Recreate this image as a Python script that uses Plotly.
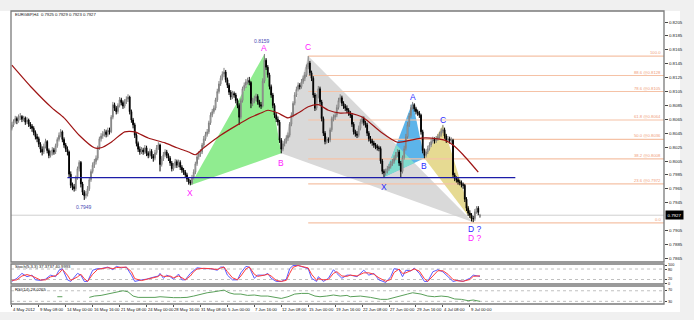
import plotly.graph_objects as go

W, H = 694, 320
LEFT, RIGHT = 11, 664
MAIN_T, MAIN_B = 11, 262
ST_T, ST_B = 264, 284
RS_T, RS_B = 286, 304


def py(p):
    return 1 - p / H


def px(p):
    return p / W


FONT = "Liberation Sans, Arial, sans-serif"

# ---------------- data (prices in 1/10000) ----------------
opens = [
    8052, 8057, 8062, 8066, 8063, 8068, 8069, 8065, 8067, 8061,
    8064, 8058, 8055, 8052, 8046, 8040, 8037, 8029, 8022, 8018,
    8026, 8033, 8020, 8013, 8016, 8021, 8018, 8027, 8036, 8042,
    8047, 8036, 8028, 8022, 8018, 7986, 7970, 7968, 7965, 7981,
    7994, 8003, 7972, 7960, 7955, 7958, 7965, 7978, 7990, 7999,
    8004, 8009, 8024, 8037, 8041, 8044, 8047, 8043, 8049, 8047,
    8068, 8086, 8081, 8076, 8085, 8093, 8089, 8084, 8090, 8094,
    8097, 8076, 8064, 8057, 8042, 8030, 8022, 8018, 8021, 8018,
    8024, 8016, 8013, 8019, 8012, 8009, 8017, 8024, 8028, 8000,
    8008, 8014, 8018, 8013, 8009, 8002, 7994, 7998, 8004, 7999,
    8003, 7996, 7992, 7989, 7985, 7979, 7975, 7973, 7981, 7989,
    8001, 8011, 8015, 8018, 8028, 8037, 8043, 8047, 8060, 8071,
    8076, 8081, 8093, 8105, 8116, 8124, 8130, 8133, 8122, 8114,
    8104, 8097, 8102, 8100, 8092, 8085, 8068, 8092, 8109, 8114,
    8119, 8121, 8118, 8088, 8092, 8095, 8098, 8090, 8086, 8084,
    8120, 8150, 8140, 8129, 8112, 8100, 8085, 8071, 8065, 8061,
    8035, 8022, 8030, 8033, 8038, 8042, 8058, 8071, 8088, 8100,
    8108, 8114, 8112, 8119, 8124, 8129, 8140, 8146, 8132, 8124,
    8100, 8081, 8098, 8109, 8090, 8066, 8045, 8033, 8036, 8035,
    8050, 8066, 8068, 8071, 8082, 8092, 8096, 8088, 8084, 8081,
    8078, 8074, 8071, 8058, 8047, 8044, 8042, 8052, 8061, 8066,
    8060, 8057, 8045, 8037, 8034, 8031, 8028, 8026, 8024, 8023,
    8005, 7990, 7988, 7990, 7994, 7997, 8001, 8004, 8009, 8014,
    8018, 8002, 7990, 8010, 8023, 8040, 8057, 8070, 8082, 8086,
    8080, 8076, 8074, 8071, 8047, 8020, 8013, 8018, 8023, 8028,
    8033, 8036, 8034, 8037, 8040, 8043, 8048, 8050, 8041, 8035,
    8037, 8034, 8035, 7985, 7980, 7978, 7975, 7974, 7971, 7970,
    7950, 7937, 7930, 7927, 7922, 7922, 7932, 7937, 7925,
]
highs = [
    8061, 8065, 8070, 8069, 8072, 8074, 8071, 8070, 8069, 8068,
    8066, 8061, 8058, 8055, 8049, 8044, 8040, 8032, 8026, 8030,
    8037, 8035, 8023, 8020, 8025, 8024, 8030, 8039, 8046, 8051,
    8049, 8039, 8031, 8026, 8020, 7990, 7974, 7972, 7984, 7997,
    8006, 8005, 7975, 7963, 7962, 7969, 7981, 7993, 8003, 8008,
    8013, 8027, 8040, 8045, 8048, 8051, 8050, 8053, 8053, 8071,
    8090, 8089, 8084, 8088, 8097, 8096, 8092, 8094, 8098, 8101,
    8099, 8079, 8067, 8060, 8045, 8033, 8026, 8025, 8024, 8028,
    8027, 8019, 8023, 8022, 8015, 8021, 8028, 8032, 8030, 8012,
    8018, 8022, 8021, 8016, 8012, 8005, 8002, 8008, 8007, 8007,
    8006, 7999, 7995, 7992, 7988, 7982, 7978, 7985, 7993, 8004,
    8015, 8019, 8022, 8031, 8041, 8047, 8051, 8063, 8075, 8080,
    8085, 8096, 8109, 8120, 8128, 8134, 8139, 8136, 8125, 8117,
    8107, 8106, 8105, 8103, 8095, 8088, 8095, 8112, 8118, 8123,
    8125, 8126, 8120, 8096, 8099, 8102, 8101, 8093, 8090, 8124,
    8159, 8153, 8143, 8132, 8115, 8103, 8088, 8074, 8069, 8064,
    8038, 8034, 8037, 8042, 8046, 8061, 8075, 8091, 8104, 8112,
    8118, 8117, 8123, 8128, 8133, 8144, 8156, 8149, 8135, 8127,
    8103, 8101, 8113, 8112, 8093, 8069, 8048, 8040, 8039, 8053,
    8069, 8072, 8075, 8086, 8096, 8101, 8099, 8091, 8087, 8085,
    8081, 8077, 8074, 8061, 8050, 8048, 8056, 8065, 8070, 8069,
    8063, 8060, 8048, 8041, 8037, 8034, 8031, 8029, 8027, 8026,
    8008, 7993, 7994, 7998, 8001, 8005, 8008, 8013, 8018, 8022,
    8021, 8005, 8013, 8027, 8044, 8061, 8074, 8086, 8090, 8088,
    8083, 8079, 8077, 8073, 8050, 8023, 8022, 8027, 8032, 8037,
    8040, 8039, 8041, 8044, 8047, 8052, 8057, 8053, 8044, 8041,
    8040, 8039, 8037, 7988, 7983, 7981, 7978, 7977, 7974, 7972,
    7953, 7940, 7934, 7930, 7926, 7936, 7940, 7940, 7929,
]
lows = [
    8049, 8054, 8059, 8058, 8060, 8064, 8061, 8062, 8057, 8058,
    8054, 8051, 8047, 8042, 8036, 8032, 8025, 8017, 8013, 8015,
    8023, 8016, 8009, 8010, 8013, 8014, 8015, 8024, 8033, 8039,
    8032, 8024, 8018, 8013, 7982, 7966, 7963, 7961, 7962, 7978,
    7990, 7967, 7956, 7949, 7951, 7954, 7962, 7975, 7987, 7995,
    8000, 8006, 8021, 8033, 8037, 8040, 8039, 8040, 8043, 8045,
    8065, 8077, 8072, 8073, 8082, 8085, 8080, 8081, 8087, 8090,
    8072, 8060, 8052, 8038, 8026, 8018, 8014, 8015, 8014, 8015,
    8012, 8009, 8010, 8008, 8004, 8006, 8014, 8021, 7990, 7997,
    8005, 8011, 8009, 8005, 7998, 7990, 7991, 7995, 7995, 7996,
    7992, 7988, 7985, 7981, 7975, 7971, 7970, 7971, 7978, 7986,
    7998, 8007, 8011, 8015, 8025, 8034, 8040, 8044, 8057, 8068,
    8073, 8078, 8090, 8102, 8113, 8121, 8126, 8118, 8110, 8100,
    8093, 8094, 8096, 8088, 8081, 8057, 8065, 8089, 8106, 8110,
    8115, 8114, 8081, 8084, 8088, 8091, 8086, 8082, 8080, 8082,
    8117, 8136, 8125, 8108, 8096, 8081, 8067, 8061, 8056, 8031,
    8016, 8019, 8026, 8030, 8034, 8039, 8055, 8068, 8085, 8097,
    8105, 8108, 8109, 8116, 8120, 8126, 8137, 8128, 8120, 8096,
    8077, 8078, 8095, 8086, 8062, 8041, 8029, 8030, 8031, 8032,
    8047, 8062, 8064, 8068, 8079, 8089, 8084, 8080, 8077, 8074,
    8070, 8067, 8054, 8043, 8040, 8038, 8039, 8049, 8058, 8056,
    8053, 8041, 8033, 8030, 8027, 8024, 8022, 8020, 8019, 8001,
    7986, 7982, 7984, 7987, 7991, 7994, 7998, 8001, 8006, 8011,
    7998, 7982, 7987, 8007, 8020, 8037, 8054, 8067, 8079, 8076,
    8072, 8070, 8067, 8043, 8016, 8009, 8010, 8015, 8020, 8025,
    8030, 8030, 8031, 8034, 8037, 8040, 8045, 8037, 8031, 8032,
    8030, 8031, 7981, 7976, 7974, 7971, 7970, 7967, 7965, 7946,
    7933, 7926, 7923, 7918, 7917, 7919, 7929, 7927, 7923,
]
closes = [
    8057, 8062, 8066, 8063, 8068, 8069, 8065, 8067, 8061, 8064,
    8058, 8055, 8052, 8046, 8040, 8037, 8029, 8022, 8018, 8026,
    8033, 8020, 8013, 8016, 8021, 8018, 8027, 8036, 8042, 8047,
    8036, 8028, 8022, 8018, 7986, 7970, 7968, 7965, 7981, 7994,
    8003, 7972, 7960, 7955, 7958, 7965, 7978, 7990, 7999, 8004,
    8009, 8024, 8037, 8041, 8044, 8047, 8043, 8049, 8047, 8068,
    8086, 8081, 8076, 8085, 8093, 8089, 8084, 8090, 8094, 8097,
    8076, 8064, 8057, 8042, 8030, 8022, 8018, 8021, 8018, 8024,
    8016, 8013, 8019, 8012, 8009, 8017, 8024, 8028, 8000, 8008,
    8014, 8018, 8013, 8009, 8002, 7994, 7998, 8004, 7999, 8003,
    7996, 7992, 7989, 7985, 7979, 7975, 7973, 7981, 7989, 8001,
    8011, 8015, 8018, 8028, 8037, 8043, 8047, 8060, 8071, 8076,
    8081, 8093, 8105, 8116, 8124, 8130, 8133, 8122, 8114, 8104,
    8097, 8102, 8100, 8092, 8085, 8068, 8092, 8109, 8114, 8119,
    8121, 8118, 8088, 8092, 8095, 8098, 8090, 8086, 8084, 8120,
    8150, 8140, 8129, 8112, 8100, 8085, 8071, 8065, 8061, 8035,
    8022, 8030, 8033, 8038, 8042, 8058, 8071, 8088, 8100, 8108,
    8114, 8112, 8119, 8124, 8129, 8140, 8146, 8132, 8124, 8100,
    8081, 8098, 8109, 8090, 8066, 8045, 8033, 8036, 8035, 8050,
    8066, 8068, 8071, 8082, 8092, 8096, 8088, 8084, 8081, 8078,
    8074, 8071, 8058, 8047, 8044, 8042, 8052, 8061, 8066, 8060,
    8057, 8045, 8037, 8034, 8031, 8028, 8026, 8024, 8023, 8005,
    7990, 7988, 7990, 7994, 7997, 8001, 8004, 8009, 8014, 8018,
    8002, 7990, 8010, 8023, 8040, 8057, 8070, 8082, 8086, 8080,
    8076, 8074, 8071, 8047, 8020, 8013, 8018, 8023, 8028, 8033,
    8036, 8034, 8037, 8040, 8043, 8048, 8050, 8041, 8035, 8037,
    8034, 8035, 7985, 7980, 7978, 7975, 7974, 7971, 7970, 7950,
    7937, 7930, 7927, 7922, 7922, 7932, 7937, 7931, 7927,
]
PIP = 1e-4
bars = list(range(len(closes)))

# moving average (read points)
ma_idx = [0, 12, 24, 31, 40, 49, 53, 59, 67, 73, 81, 91, 98, 105, 109, 114,
          124, 134, 142, 148, 152, 158, 164, 170, 176, 182, 188, 195, 201,
          209, 219, 229, 237, 243, 249, 257, 262, 268, 277]
ma_val = [8143, 8110, 8081, 8067, 8042, 8024, 8024, 8032, 8047, 8047, 8038,
          8031, 8024, 8018, 8014, 8024, 8042, 8057, 8068, 8074, 8078, 8074,
          8067, 8074, 8083, 8086, 8078, 8074, 8074, 8067, 8047, 8032, 8035,
          8038, 8038, 8035, 8028, 8014, 7989]

# harmonic patterns (X, A, B, C, D)
pat1_idx = [106, 150, 160, 176, 274]
pat1_val = [7970, 8159, 8016, 8156, 7917]
pat2_idx = [221, 238, 245, 256, 274]
pat2_val = [7982, 8090, 8009, 8057, 7917]
pat_letters = ["X", "A", "B", "C", "D ?"]

# fibonacci levels
fib_start = 176
fib_pct = ["100.0", "88.6", "78.6", "61.8", "50.0", "38.2", "23.6", "0.0"]
fib_val = [0.8156, 0.8128, 0.8105, 0.8064, 0.8036, 0.8008, 0.7972, 0.7916]

# horizontal support line
hline_idx = [33, 299]
hline_val = 0.7981

# price axis ticks
price_ticks = [0.7865, 0.7885, 0.7905, 0.7945, 0.7965, 0.7985, 0.8005, 0.8025,
               0.8045, 0.8065, 0.8085, 0.8105, 0.8125, 0.8145, 0.8165, 0.8185,
               0.8205]
last_price = 0.7927

# time labels
date_idx = [0, 16, 32, 48, 64, 80, 96, 112, 128, 144, 160, 176, 192, 208,
            224, 240, 256, 272]
date_txt = ["4 May 2012", "9 May 08:00", "14 May 00:00", "16 May 16:00",
            "21 May 08:00", "24 May 00:00", "28 May 16:00", "31 May 08:00",
            "5 Jun 00:00", "7 Jun 16:00", "12 Jun 08:00", "15 Jun 00:00",
            "19 Jun 16:00", "22 Jun 08:00", "27 Jun 00:00", "29 Jun 16:00",
            "4 Jul 08:00", "9 Jul 00:00"]

# stochastic (main / signal)
st_idx = [0, 3, 6, 9, 12, 14, 17, 20, 23, 26, 28, 30, 33, 35, 39, 41, 43, 45,
          48, 51, 53, 57, 60, 62, 65, 68, 71, 73, 77, 80, 84, 87, 88, 90, 92,
          94, 96, 99, 101, 103, 106, 108, 110, 114, 118, 122, 124, 126, 128,
          131, 134, 136, 139, 141, 144, 146, 150, 152, 154, 157, 160, 163, 165,
          167, 170, 173, 176, 178, 181, 182, 185, 188, 191, 193, 196, 199, 201,
          205, 209, 212, 215, 218, 222, 225, 227, 230, 232, 234, 237, 239, 242,
          245, 247, 250, 253, 256, 259, 262, 265, 268, 272, 274, 278]
st_main = [9, 27, 55, 36, 45, 18, 15, 22, 45, 36, 73, 82, 18, 9, 55, 45, 9, 9,
           73, 82, 82, 91, 76, 95, 87, 91, 45, 9, 18, 22, 33, 40, 55, 27, 45,
           36, 22, 51, 18, 18, 55, 73, 87, 82, 82, 73, 91, 91, 45, 18, 18, 58,
           95, 91, 27, 45, 45, 55, 27, 9, 9, 22, 82, 100, 100, 91, 82, 27, 9,
           36, 9, 27, 76, 55, 27, 45, 45, 36, 73, 45, 55, 18, 3, 36, 82, 76,
           36, 73, 69, 85, 55, 9, 9, 64, 76, 64, 36, 9, 15, 9, 27, 45, 37.4]
st_sig = [15, 18, 40, 48, 40, 30, 17, 18, 35, 42, 55, 78, 45, 15, 35, 50, 25,
          9, 50, 78, 82, 88, 82, 88, 90, 90, 65, 25, 14, 20, 28, 37, 48, 38,
          38, 40, 30, 40, 30, 18, 40, 65, 80, 84, 82, 77, 85, 91, 65, 30, 18,
          40, 80, 92, 50, 38, 45, 50, 40, 15, 9, 15, 55, 90, 100, 95, 86, 50,
          15, 25, 18, 20, 55, 65, 40, 38, 45, 40, 58, 58, 50, 30, 10, 20, 60,
          80, 55, 58, 72, 80, 68, 25, 9, 40, 70, 70, 50, 20, 12, 10, 20, 38, 41]
st_labels = ["100", "80", "20", "0"]

# RSI
rsi_idx = [27, 30, None, 39, None, 46, 49, 53, 57, 61, 64, 66, 69, 72, 75, 79,
           85, 88, 92, 96, 100, 104, 108, 112, 116, 120, 124, 126, 129, 132,
           136, 140, 144, 148, 152, 156, 160, 164, 168, 172, 176, 180, 183,
           187, 191, 195, 199, 201, 207, 213, 219, 223, 227, 231, 235, 238,
           243, 247, 251, 255, 259, 263, 267, 271, 274, 278]
rsi_val = [47.5, 47.5, None, 45, None, 45, 50, 52.5, 57.5, 62.5, 66, 70, 66,
           50, 45, 44, 45, 47.5, 45, 44, 44, 45, 50, 57.5, 62.5, 66, 70, 72.5,
           62.5, 57.5, 57.5, 52.5, 54, 50, 50, 45, 41, 47.5, 57.5, 60, 60, 50,
           47.5, 50, 54, 50, 52.5, 47.5, 50, 45, 37.5, 37.5, 45, 50, 57.5,
           62.5, 57.5, 50, 47.5, 50, 47.5, 39, 37.5, 32.5, 35, 30]
rsi_labels = ["70", "30"]

X_MIN, X_MAX = -0.5, 387.3
Y_MIN, Y_MAX = 0.785967, 0.822083


def clip_below(poly, p0, p1):
    """Part of polygon lying below the line p0-p1 (data space)."""
    def f(p):
        return p[1] - (p0[1] + (p1[1] - p0[1]) * (p[0] - p0[0]) / (p1[0] - p0[0]))
    out = []
    n = len(poly)
    for i in range(n):
        a, b = poly[i], poly[(i + 1) % n]
        fa, fb = f(a), f(b)
        if fa <= 0:
            out.append(a)
        if (fa <= 0) != (fb <= 0):
            t = fa / (fa - fb)
            out.append((a[0] + t * (b[0] - a[0]), a[1] + t * (b[1] - a[1])))
    return out


def pt(ix, val, k):
    return (ix[k], val[k] * PIP)


def poly_shape(points, color):
    path = "M " + " L ".join(f"{x},{y}" for x, y in points) + " Z"
    return dict(type="path", xref="x", yref="y", path=path, fillcolor=color,
                line=dict(width=0), layer="below")


P1 = [pt(pat1_idx, pat1_val, k) for k in range(5)]
P2 = [pt(pat2_idx, pat2_val, k) for k in range(5)]

shapes = []
# gray page strips
shapes.append(dict(type="rect", xref="paper", yref="paper", x0=0, x1=1,
                   y0=py(11), y1=1, fillcolor="#f0f0f0", line=dict(width=0), layer="below"))
shapes.append(dict(type="rect", xref="paper", yref="paper", x0=px(680), x1=1,
                   y0=0, y1=1, fillcolor="#f0f0f0", line=dict(width=0), layer="below"))
shapes.append(dict(type="rect", xref="paper", yref="paper", x0=0, x1=1,
                   y0=0, y1=py(312), fillcolor="#f0f0f0", line=dict(width=0), layer="below"))

# pattern triangles (behind the candles)
shapes.append(poly_shape([P1[2], P1[3], P1[4]], "#d9d9d9"))   # BCD gray
shapes.append(poly_shape([P1[0], P1[1], P1[2]], "#90ec90"))   # XAB green
blue_tri = [P2[0], P2[1], P2[2]]
shapes.append(poly_shape(blue_tri, "#5cb4ea"))                # XAB blue
overlap = clip_below(blue_tri, P1[3], P1[4])
if len(overlap) >= 3:
    shapes.append(poly_shape(overlap, "#7fdccd"))
shapes.append(poly_shape([P2[2], P2[3], P2[4]], "#e6da92"))   # BCD khaki

# bid line
shapes.append(dict(type="line", xref="x", yref="y", x0=X_MIN, x1=X_MAX,
                   y0=last_price, y1=last_price, line=dict(color="#cfcfcf", width=1),
                   layer="below"))
# fib lines
for v in fib_val:
    shapes.append(dict(type="line", xref="x", yref="y", x0=fib_start, x1=X_MAX,
                       y0=v, y1=v, line=dict(color="#f5c2a6", width=1.2), layer="below"))
# oscillator levels
for v in (80, 20):
    shapes.append(dict(type="line", xref="x2", yref="y2", x0=X_MIN, x1=X_MAX,
                       y0=v, y1=v, line=dict(color="#b0b0b0", width=0.8, dash="dot"),
                       layer="below"))
for v in (70, 30):
    shapes.append(dict(type="line", xref="x3", yref="y3", x0=X_MIN, x1=X_MAX,
                       y0=v, y1=v, line=dict(color="#b0b0b0", width=0.8, dash="dot"),
                       layer="below"))
# frames
for (t, b) in ((MAIN_T, MAIN_B), (ST_T, ST_B), (RS_T, RS_B)):
    shapes.append(dict(type="rect", xref="paper", yref="paper", x0=px(LEFT), x1=px(RIGHT),
                       y0=py(b), y1=py(t), line=dict(color="#7a7a7a", width=1.3)))

fig = go.Figure()

fig.add_trace(go.Candlestick(
    x=bars,
    open=[v * PIP for v in opens], high=[v * PIP for v in highs],
    low=[v * PIP for v in lows], close=[v * PIP for v in closes],
    increasing=dict(line=dict(color="#808080", width=1), fillcolor="#ffffff"),
    decreasing=dict(line=dict(color="#000000", width=1), fillcolor="#000000"),
    whiskerwidth=0, hoverinfo="skip", showlegend=False, xaxis="x", yaxis="y"))

fig.add_trace(go.Scatter(x=ma_idx, y=[v * PIP for v in ma_val], mode="lines",
                         line=dict(color="#9e1414", width=1.2, shape="spline", smoothing=0.6),
                         hoverinfo="skip", showlegend=False, xaxis="x", yaxis="y"))
fig.add_trace(go.Scatter(x=hline_idx, y=[hline_val, hline_val], mode="lines",
                         line=dict(color="#1c1ca8", width=1.3),
                         hoverinfo="skip", showlegend=False, xaxis="x", yaxis="y"))

# stochastic
fig.add_trace(go.Scatter(x=st_idx, y=st_main, mode="lines",
                         line=dict(color="#5a5aff", width=1),
                         hoverinfo="skip", showlegend=False, xaxis="x2", yaxis="y2"))
fig.add_trace(go.Scatter(x=st_idx, y=st_sig, mode="lines",
                         line=dict(color="#ff3a3a", width=1),
                         hoverinfo="skip", showlegend=False, xaxis="x2", yaxis="y2"))
# RSI
fig.add_trace(go.Scatter(x=rsi_idx, y=rsi_val, mode="lines",
                         line=dict(color="#5aa05a", width=1), connectgaps=False,
                         hoverinfo="skip", showlegend=False, xaxis="x3", yaxis="y3"))

ann = []


def text(x, y, s, size=4.2, color="#111", xref="paper", yref="paper",
         xanchor="center", yanchor="middle", **kw):
    d = dict(x=x, y=y, xref=xref, yref=yref, text=s, showarrow=False,
             xanchor=xanchor, yanchor=yanchor,
             font=dict(family=FONT, size=size, color=color))
    d.update(kw)
    ann.append(d)


text(px(13), py(14.5), "EURGBP,H4  0.7925 0.7929 0.7923 0.7927", xanchor="left")
text(px(13), py(266.5), "Stoch(5,3,3) 37.3737 40.9993", xanchor="left")
text(px(13), py(289.5), "RSI(14) 28.0265", xanchor="left")

for ix, s in zip(date_idx, date_txt):
    text(ix, py(309), s, xref="x", xanchor="left", xshift=-1)

# oscillator scale labels (right side)
for s, ypx in zip(st_labels, (265, 270, 278.5, 283.5)):
    text(px(666), py(ypx), s, size=3.8, xanchor="left")
for s, ypx in zip(rsi_labels, (289.5, 301.5)):
    text(px(666), py(ypx), s, size=3.8, xanchor="left")

# fib labels
for pct, v in zip(fib_pct, fib_val):
    s = pct if pct in ("100.0", "0.0") else f"{pct} @{v:.4f}"
    text(px(RIGHT - 1), v, s, size=4.2, color="#f09c78", yref="y",
         xanchor="right", yanchor="bottom", yshift=-1)

# pattern labels
mag_shift = [-8, 6, -10, 9, -16]
blue_shift = [-10, 5, -8, 5, -7]
for k in range(5):
    x1, y1 = P1[k]
    x2, y2 = P2[k]
    xs = 2 if k == 4 else 0
    text(x1, y1, pat_letters[k], size=8.5, color="#ff1aff", xref="x", yref="y",
         yshift=mag_shift[k], xshift=xs)
    if k < 4:
        text(x2, y2, pat_letters[k], size=8.5, color="#2a2aff", xref="x", yref="y",
             yshift=blue_shift[k])
text(pat2_idx[4], pat2_val[4] * PIP, pat_letters[4], size=8.5, color="#2a2aff",
     xref="x", yref="y", yshift=blue_shift[4], xshift=2)

text(pat1_idx[1], pat1_val[1] * PIP, "0.8159", size=5, color="#4b4bb5",
     xref="x", yref="y", yshift=13, xshift=-2)
text(43, 0.7949, "0.7949", size=5, color="#4b4bb5", xref="x", yref="y", yshift=-7)

# current price box
text(px(665), last_price, "0.7927", size=4.4, color="#ffffff", yref="y",
     xanchor="left", bgcolor="#000000", borderpad=1.5)

axis_common = dict(showgrid=False, zeroline=False, fixedrange=True)
fig.update_layout(
    width=W, height=H, margin=dict(l=0, r=0, t=0, b=0),
    paper_bgcolor="#ffffff", plot_bgcolor="#ffffff",
    showlegend=False, shapes=shapes, annotations=ann,
    font=dict(family=FONT, size=4.2, color="#111"),
    xaxis=dict(domain=[px(LEFT), px(RIGHT)], range=[X_MIN, X_MAX], anchor="y",
               showticklabels=False, ticks="", rangeslider=dict(visible=False),
               **axis_common),
    xaxis2=dict(domain=[px(LEFT), px(RIGHT)], range=[X_MIN, X_MAX], anchor="y2",
                matches="x", showticklabels=False, ticks="", **axis_common),
    xaxis3=dict(domain=[px(LEFT), px(RIGHT)], range=[X_MIN, X_MAX], anchor="y3",
                matches="x", tickvals=date_idx, ticktext=[""] * len(date_idx),
                ticks="outside", ticklen=2, tickcolor="#555", **axis_common),
    yaxis=dict(domain=[py(MAIN_B), py(MAIN_T)], range=[Y_MIN, Y_MAX], anchor="x",
               side="right", tickvals=price_ticks,
               ticktext=[f"{v:.4f}" for v in price_ticks],
               ticks="outside", ticklen=3, tickcolor="#444",
               tickfont=dict(size=4.4, color="#222"), **axis_common),
    yaxis2=dict(domain=[py(ST_B), py(ST_T)], range=[-5.7, 108.6], anchor="x2",
                side="right", tickvals=[0, 20, 80, 100], ticktext=[""] * 4,
                ticks="outside", ticklen=2, tickcolor="#444", **axis_common),
    yaxis3=dict(domain=[py(RS_B), py(RS_T)], range=[20, 88], anchor="x3",
                side="right", tickvals=[30, 70], ticktext=[""] * 2,
                ticks="outside", ticklen=2, tickcolor="#444", **axis_common),
)

fig.write_html("out.html")
